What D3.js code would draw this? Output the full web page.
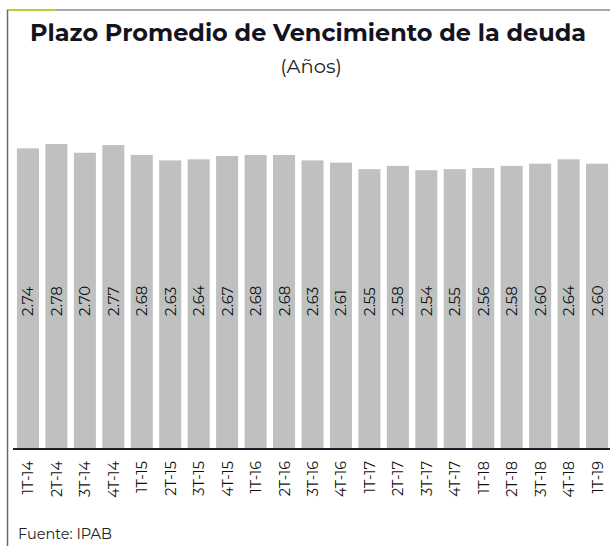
<!DOCTYPE html>
<html>
<head>
<meta charset="utf-8">
<script src="https://cdn.jsdelivr.net/npm/d3@7"></script>
<style>
  body { margin: 0; background: #fff; }
  svg { display: block; }
</style>
</head>
<body>
<div id="chart"></div>
<script>
const periods = ["1T-14", "2T-14", "3T-14", "4T-14", "1T-15", "2T-15", "3T-15", "4T-15",
    "1T-16", "2T-16", "3T-16", "4T-16", "1T-17", "2T-17", "3T-17", "4T-17",
    "1T-18", "2T-18", "3T-18", "4T-18", "1T-19"];
const plazo = [2.74, 2.78, 2.70, 2.77, 2.68, 2.63, 2.64, 2.67, 2.68, 2.68, 2.63,
    2.61, 2.55, 2.58, 2.54, 2.55, 2.56, 2.58, 2.60, 2.64, 2.60];

const title = "Plazo Promedio de Vencimiento de la deuda";
const subtitle = "(Años)";
const source = "Fuente: IPAB";

const width = 610,
    height = 546;
const font = "Montserrat, 'Open Sans', sans-serif";

const svg = d3.select("#chart")
    .append("svg")
    .attr("width", width)
    .attr("height", height);

// frame: thin grey line on top and left, green accent at the corner
svg.append("line")
    .attr("x1", 7).attr("x2", width)
    .attr("y1", 10).attr("y2", 10)
    .attr("stroke", "#8a8a8a").attr("stroke-width", 1.5);
svg.append("line")
    .attr("x1", 7).attr("x2", 55)
    .attr("y1", 10).attr("y2", 10)
    .attr("stroke", "#b5cf3c").attr("stroke-width", 2);
svg.append("line")
    .attr("x1", 7.5).attr("x2", 7.5)
    .attr("y1", 10).attr("y2", height)
    .attr("stroke", "#6a6a6a").attr("stroke-width", 1.5);

svg.append("text")
    .attr("x", 308)
    .attr("y", 41)
    .attr("text-anchor", "middle")
    .attr("font-family", font)
    .attr("font-weight", "bold")
    .attr("font-size", 24)
    .attr("textLength", 556)
    .attr("lengthAdjust", "spacingAndGlyphs")
    .attr("fill", "#14141e")
    .text(title);

svg.append("text")
    .attr("x", 311)
    .attr("y", 73)
    .attr("text-anchor", "middle")
    .attr("font-family", font)
    .attr("font-size", 19.5)
    .attr("fill", "#222")
    .text(subtitle);

const x = d3.scaleBand()
    .domain(periods)
    .range([17 - 3.2, 608 + 3.2])
    .paddingInner(0.225)
    .paddingOuter(0.11);

const baseline = 448;
const y = d3.scaleLinear()
    .domain([0, 2.78])
    .range([baseline, 144]);

const g = svg.append("g");

g.selectAll("rect")
    .data(plazo)
    .enter()
    .append("rect")
    .attr("x", (d, i) => x(periods[i]))
    .attr("y", d => y(d))
    .attr("width", x.bandwidth())
    .attr("height", d => baseline - y(d))
    .attr("fill", "#bfc1c1");

g.selectAll("text.value")
    .data(plazo)
    .enter()
    .append("text")
    .attr("class", "value")
    .attr("transform", (d, i) =>
        "translate(" + (x(periods[i]) + x.bandwidth() / 2 + 5.5) + ",316) rotate(-90)")
    .attr("font-family", font)
    .attr("font-size", 15)
    .attr("fill", "#111")
    .text(d => d.toFixed(2));

// axis line and rotated period labels
const xAxis = d3.axisBottom(x).tickSize(0).tickPadding(0);
const xDisplay = svg.append("g")
    .attr("transform", "translate(0," + 449 + ")")
    .call(xAxis);
xDisplay.select(".domain")
    .attr("d", "M13,0H" + width)
    .attr("stroke", "#1e1e28")
    .attr("stroke-width", 2.2);
xDisplay.selectAll(".tick text")
    .attr("transform", "translate(5.5,12) rotate(-90)")
    .attr("text-anchor", "end")
    .attr("dy", 0)
    .attr("y", 0)
    .attr("x", 0)
    .attr("font-family", font)
    .attr("font-size", 14.5)
    .attr("fill", "#111")
    .text(d => d);

svg.append("text")
    .attr("x", 18)
    .attr("y", 539)
    .attr("font-family", font)
    .attr("font-size", 14.5)
    .attr("fill", "#222")
    .text(source);
</script>
</body>
</html>
